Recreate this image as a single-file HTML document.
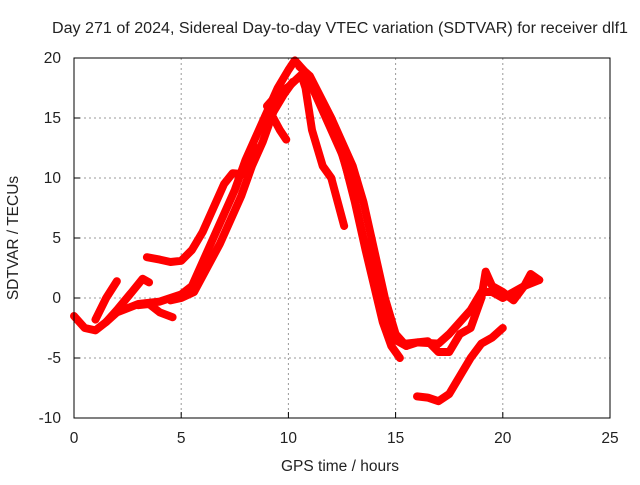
<!DOCTYPE html>
<html><head><meta charset="utf-8"><style>
body{margin:0;background:#fff}
svg text{font-family:"Liberation Sans",sans-serif;font-size:15.5px;fill:#222}
</style></head><body>
<svg id="chart" width="640" height="480">
<text x="340" y="33" text-anchor="middle" textLength="576" lengthAdjust="spacingAndGlyphs">Day 271 of 2024, Sidereal Day-to-day VTEC variation (SDTVAR) for receiver dlf1</text>
<text x="340" y="471" text-anchor="middle">GPS time / hours</text>
<text transform="translate(18,238) rotate(-90)" text-anchor="middle">SDTVAR / TECUs</text>
<g id="grid"></g><g id="ticks"></g><g id="series"></g>
<rect x="74" y="58" width="536" height="360" fill="none" stroke="#000" stroke-width="1"/>
</svg>
<script>
const xTicks=[0,5,10,15,20,25];
const yTicks=[-10,-5,0,5,10,15,20];
const trackMain=[[0,-1.5],[0.5,-2.5],[1,-2.7],[1.5,-2],[2,-1.2],[3,-0.5],[4,-0.3],[5,0.3],[5.5,1],[6,3],[6.5,5],[7,7],[7.5,9],[8,11.5],[8.5,13.5],[9,15.5],[9.5,17.5],[10,19],[10.3,19.8],[10.7,19],[11,18],[11.5,16],[12,14],[12.5,12],[13,9],[13.5,5],[14,2],[14.5,-2],[15,-3.5],[15.5,-4],[16,-3.7],[17,-3.8],[17.5,-3],[18,-2],[18.5,-1],[19,0.5],[19.5,0.5],[20,0],[20.5,0.5],[21,1],[21.7,1.5]];
const trackMain2=[[4.5,-0.2],[5,0],[5.6,0.5],[6.2,2.5],[6.8,4.5],[7.3,6.5],[7.8,8.5],[8.3,11],[8.8,13],[9.3,15.5],[9.8,17],[10.2,18]];
const trackPlateau=[[3.4,3.4],[4,3.2],[4.5,3],[5,3.1],[5.5,4],[6,5.5],[6.5,7.5],[7,9.5],[7.4,10.4],[8,10.3],[8.5,12.5]];
const trackSecond=[[9,16],[9.5,17],[10,17.6],[10.6,18.6],[10.8,17.5],[11.1,14],[11.6,11],[12,10],[12.3,8],[12.6,6]];
const trackBranch=[[8.8,14.5],[9.3,15],[9.6,14],[9.9,13.2]];
const trackDesc=[[10.5,19.3],[11,18.5],[12,15],[12.5,13],[13,11],[13.5,8],[14,4],[14.5,0],[15,-3],[15.5,-4]];
const trackDesc2=[[11.2,17.5],[12,14.5],[12.6,11.5],[13.1,8],[13.6,4],[14,1],[14.4,-2],[14.8,-4],[15.2,-5]];
const trackLow=[[16,-8.2],[16.5,-8.3],[17,-8.6],[17.5,-8],[18,-6.5],[18.5,-5],[19,-3.8],[19.5,-3.3],[20,-2.5]];
const trackDip=[[15.5,-3.8],[16.5,-3.6],[17,-4.5],[17.5,-4.5],[18,-3],[18.5,-2.5],[19,0],[19.2,2.2],[19.5,1],[20,0.5],[20.5,-0.2],[21,1],[21.3,2],[21.7,1.5]];
const trackEarly1=[[1,-1.8],[1.5,0],[2,1.4]];
const trackEarly2=[[1.5,-2],[2,-1],[2.7,0.5],[3.2,1.6],[3.5,1.3]];
const trackEarly3=[[3,-0.6],[3.5,-0.5],[4,-1.2],[4.6,-1.6]];
const tracks=[trackMain,trackMain2,trackPlateau,trackSecond,trackBranch,trackDesc,trackDesc2,trackLow,trackDip,trackEarly1,trackEarly2,trackEarly3];
const X=v=>74+v*536/25, Y=v=>298-v*12;
const NS='http://www.w3.org/2000/svg';
const grid=document.getElementById('grid'),ticks=document.getElementById('ticks'),ser=document.getElementById('series');
function mk(tag,attrs,parent){const e=document.createElementNS(NS,tag);for(const k in attrs)e.setAttribute(k,attrs[k]);parent.appendChild(e);return e;}
xTicks.forEach(t=>{
 if(t>0&&t<25){const g=mk('line',{x1:X(t),x2:X(t),y1:58,y2:418,stroke:'#999','stroke-dasharray':'2,3'},grid);
 
 }
 const tk=mk('line',{x1:X(t),x2:X(t),y1:418,y2:412,stroke:'#000'},ticks);
 
 
 const tl=mk('text',{x:X(t),y:443,'text-anchor':'middle'},ticks);tl.textContent=t;
 
 
});
yTicks.forEach(t=>{
 if(t>-10&&t<20){const g=mk('line',{x1:74,x2:610,y1:Y(t),y2:Y(t),stroke:'#999','stroke-dasharray':'2,3'},grid);
 
 }
 const tk=mk('line',{x1:74,x2:80,y1:Y(t),y2:Y(t),stroke:'#000'},ticks);
 
 
 const tl=mk('text',{x:61,y:Y(t)+5,'text-anchor':'end'},ticks);tl.textContent=t;
 
 
});
tracks.forEach((tr,i)=>{
 const p=mk('polyline',{points:tr.map(d=>X(d[0])+','+Y(d[1])).join(' '),fill:'none',stroke:'#f00','stroke-width':8,'stroke-linejoin':'round','stroke-linecap':'round'},ser);
 
 
});
</script>
</body></html>
